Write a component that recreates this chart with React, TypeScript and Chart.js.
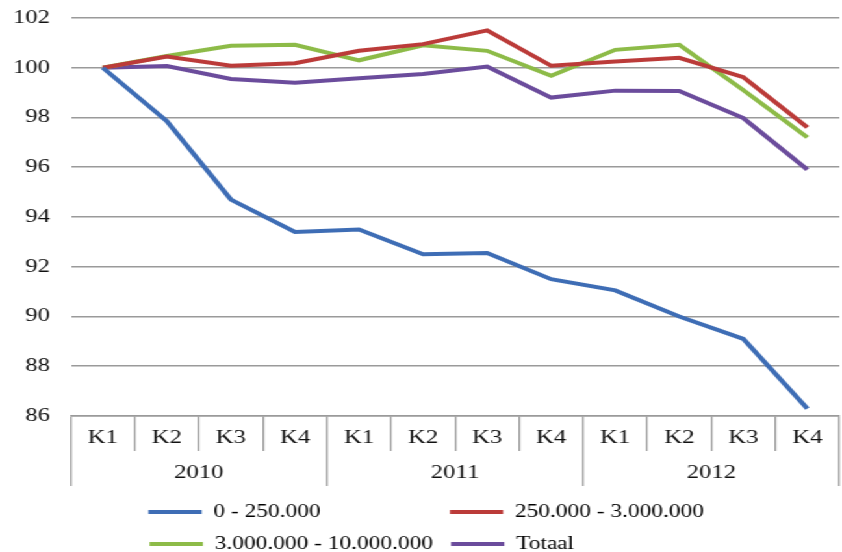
import React, { useEffect, useRef } from "react";
import { Chart, registerables } from "chart.js";

Chart.register(...registerables);

const quarters = ["K1", "K2", "K3", "K4", "K1", "K2", "K3", "K4", "K1", "K2", "K3", "K4"];
const years = ["2010", "2011", "2012"];
const yTicks = [86, 88, 90, 92, 94, 96, 98, 100, 102];

const seriesNames = ["0 - 250.000", "250.000 - 3.000.000", "3.000.000 - 10.000.000", "Totaal"];
const small = [100, 97.85, 94.7, 93.4, 93.5, 92.5, 92.55, 91.5, 91.05, 90.0, 89.1, 86.3];
const medium = [100, 100.45, 100.08, 100.18, 100.68, 100.95, 101.5, 100.08, 100.25, 100.4, 99.62, 97.6];
const large = [100, 100.47, 100.88, 100.92, 100.3, 100.9, 100.68, 99.68, 100.72, 100.92, 99.1, 97.2];
const total = [100, 100.07, 99.55, 99.4, 99.58, 99.75, 100.05, 98.8, 99.08, 99.07, 97.98, 95.9];

const colors = ["#3e6db5", "#bb3b39", "#8dbb48", "#6b4c9c"];

const W = 648;
const H = 552;
const SCALE_X = 842 / W;
const FONT = "'Liberation Serif', 'Times New Roman', serif";

export default function App() {
  const ref = useRef<HTMLCanvasElement | null>(null);

  useEffect(() => {
    if (!ref.current) return;
    const values = [small, medium, large, total];

    const mctx = document.createElement("canvas").getContext("2d")!;
    mctx.font = `18px ${FONT}`;
    const padTo = (t: string, target: number) => {
      let s = t;
      while (mctx.measureText(s).width < target - 2) s += " ";
      return s;
    };
    const col1 = Math.max(mctx.measureText(seriesNames[0]).width, mctx.measureText(seriesNames[2]).width);
    const col2 = Math.max(mctx.measureText(seriesNames[1]).width, mctx.measureText(seriesNames[3]).width);
    const legendTexts = seriesNames.map((n, i) => padTo(n, i % 2 === 0 ? col1 : col2));

    const chart = new Chart(ref.current, {
      type: "line",
      data: {
        labels: quarters,
        datasets: seriesNames.map((name, i) => ({
          label: name,
          data: values[i],
          borderColor: colors[i],
          backgroundColor: colors[i],
          borderWidth: 4,
          pointRadius: 0,
          tension: 0,
          fill: false,
        })),
      },
      options: {
        animation: false,
        responsive: true,
        maintainAspectRatio: false,
        layout: { padding: { left: 10, right: 2, top: 18, bottom: -11 } },
        plugins: {
          tooltip: { enabled: false },
          legend: {
            position: "bottom",
            align: "center",
            labels: {
              boxWidth: 41,
              boxHeight: 4,
              padding: 14,
              color: "#111",
              font: { family: FONT, size: 18 },
              generateLabels: (c: any) =>
                c.data.datasets.map((ds: any, i: number) => ({
                  text: legendTexts[i],
                  fillStyle: ds.borderColor,
                  strokeStyle: ds.borderColor,
                  lineWidth: 0,
                  hidden: false,
                  datasetIndex: i,
                })),
            },
          },
        },
        scales: {
          y: {
            min: 86,
            max: 102,
            afterBuildTicks: (s: any) => {
              s.ticks = yTicks.map((v) => ({ value: v }));
            },
            ticks: {
              stepSize: 2,
              padding: 0,
              color: "#111",
              font: { family: FONT, size: 19 },
            },
            grid: {
              color: "#9a9a9a",
              lineWidth: 1.6,
              drawTicks: true,
              tickLength: 16,
              tickColor: "rgba(0,0,0,0)",
            },
            border: { display: false },
          },
          x: {
            type: "category",
            position: "bottom",
            weight: 0,
            offset: true,
            grid: { offset: true, drawOnChartArea: false, tickLength: 35, color: "#9a9a9a", lineWidth: 1.3 },
            border: { display: true, color: "#9a9a9a", width: 1.6 },
            ticks: {
              padding: -24,
              autoSkip: false,
              maxRotation: 0,
              minRotation: 0,
              color: "#111",
              font: { family: FONT, size: 19 },
            },
            afterFit: (s: any) => {
              s.height = 35;
            },
          },
          x2: {
            type: "category",
            position: "bottom",
            weight: 1,
            labels: years,
            offset: true,
            grid: { offset: true, drawOnChartArea: false, tickLength: 35, color: "#9a9a9a", lineWidth: 1.3 },
            border: { display: false },
            ticks: {
              padding: -24,
              autoSkip: false,
              maxRotation: 0,
              minRotation: 0,
              color: "#111",
              font: { family: FONT, size: 19 },
            },
            afterFit: (s: any) => {
              s.height = 38;
            },
          },
        },
      } as any,
    });
    return () => chart.destroy();
  }, []);

  return (
    <div
      style={{
        position: "absolute",
        left: 0,
        top: 0,
        width: W,
        height: H,
        transform: `scaleX(${SCALE_X})`,
        transformOrigin: "0 0",
        background: "#fff",
      }}
    >
      <canvas ref={ref} />
    </div>
  );
}
